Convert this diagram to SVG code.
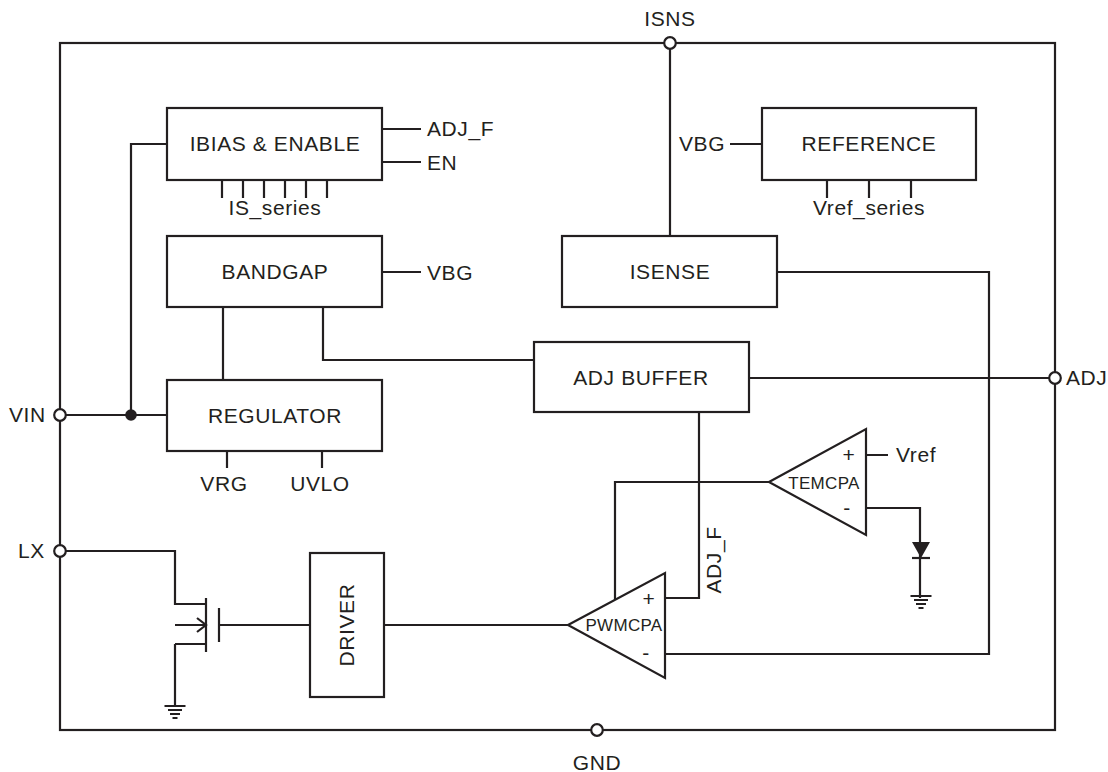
<svg xmlns="http://www.w3.org/2000/svg" width="1108" height="772" viewBox="0 0 1108 772">
<style>
text{font-family:"Liberation Sans",Arial,sans-serif;font-size:21px;fill:#231f20;letter-spacing:.6px}
.m{text-anchor:middle}
.s{font-size:17px;letter-spacing:.3px}
.b{fill:#fff;stroke:#231f20;stroke-width:2.2}
.l{fill:none;stroke:#231f20;stroke-width:2.2}
.t{fill:none;stroke:#231f20;stroke-width:2}
.p{fill:#fff;stroke:#231f20;stroke-width:2.2}
</style>
<defs>
<g id="gnd"><path class="t" d="M-10.500 0H10.500M-7 4H7M-5 8H5M-2.500 12H2.500"/></g>
</defs>
<rect width="1108" height="772" fill="#fff"/>
<g id="connectors">
<rect class="l" x="60" y="43" width="995" height="687"/>
<path class="l" d="M670 43V236M60 415H167M131 415V144H167M382 129H421M382 162H421M222 180V198M243 180V198M264 180V198M285 180V198M306 180V198M327 180V198M730 144H762M827 180V198M869 180V198M911 180V198M382 272H421M223 307V380M323 307V360H534M227 451V468M322 451V468M777 272H989V654H665M749 378H1055M699 412V598H666M615 600V482H769M866 455H888M866 508H920V598M60 551H175V604H205M384 625H568M175 644V706M175 644H205M218 625H310"/>
<path class="l" d="M175 625H205M197 618L206 625L197 632"/>
<path class="l" d="M206 598V652M219 608V642"/>
<path fill="#231f20" d="M912 542H930L921 558Z"/>
<path class="l" d="M912 558H930"/>
<use href="#gnd" x="175" y="706"/>
<use href="#gnd" x="921" y="596"/>
</g>
<g id="ports">
<circle class="p" cx="670" cy="43" r="5.800"/>
<circle class="p" cx="60" cy="415" r="5.800"/>
<circle class="p" cx="60" cy="551" r="5.800"/>
<circle class="p" cx="1055" cy="378" r="5.800"/>
<circle class="p" cx="597" cy="730" r="5.800"/>
<circle cx="131" cy="415" r="5.800" fill="#231f20"/>
<text class="m" x="670" y="26">ISNS</text>
<text x="9" y="422">VIN</text>
<text x="18" y="558">LX</text>
<text x="1066" y="385">ADJ</text>
<text class="m" x="597" y="770">GND</text>
</g>
<g id="ibias"><rect class="b" x="167" y="108" width="215" height="72"/><text class="m" x="275" y="151">IBIAS &amp; ENABLE</text><text x="427" y="136">ADJ_F</text><text x="427" y="170">EN</text><text class="m" x="275" y="215">IS_series</text></g>
<g id="bandgap"><rect class="b" x="167" y="236" width="215" height="71"/><text class="m" x="275" y="279">BANDGAP</text><text x="427" y="280">VBG</text></g>
<g id="regulator"><rect class="b" x="167" y="380" width="215" height="71"/><text class="m" x="275" y="423">REGULATOR</text><text class="m" x="224" y="491">VRG</text><text class="m" x="320" y="491">UVLO</text></g>
<g id="reference"><rect class="b" x="762" y="108" width="214" height="72"/><text class="m" x="869" y="151">REFERENCE</text><text x="679" y="151">VBG</text><text class="m" x="869" y="215">Vref_series</text></g>
<g id="isense"><rect class="b" x="562" y="236" width="215" height="71"/><text class="m" x="670" y="279">ISENSE</text></g>
<g id="adjbuffer"><rect class="b" x="534" y="342" width="215" height="70"/><text class="m" x="641" y="385">ADJ BUFFER</text></g>
<g id="driver"><rect class="b" x="310" y="553" width="74" height="144"/><text class="m" transform="translate(354 625) rotate(-90)">DRIVER</text></g>
<g id="temcpa"><path class="b" d="M769 482L866 429V535Z"/><text class="m s" x="824" y="489">TEMCPA</text><text class="m" x="849" y="462">+</text><text class="m" x="847" y="515">-</text><text x="896" y="462">Vref</text></g>
<g id="pwmcpa"><path class="b" d="M568 625L665 573V678Z"/><text class="m s" x="624" y="631">PWMCPA</text><text class="m" x="649" y="606">+</text><text class="m" x="646" y="660">-</text><text class="m" transform="translate(721 560) rotate(-90)">ADJ_F</text></g>
</svg>
